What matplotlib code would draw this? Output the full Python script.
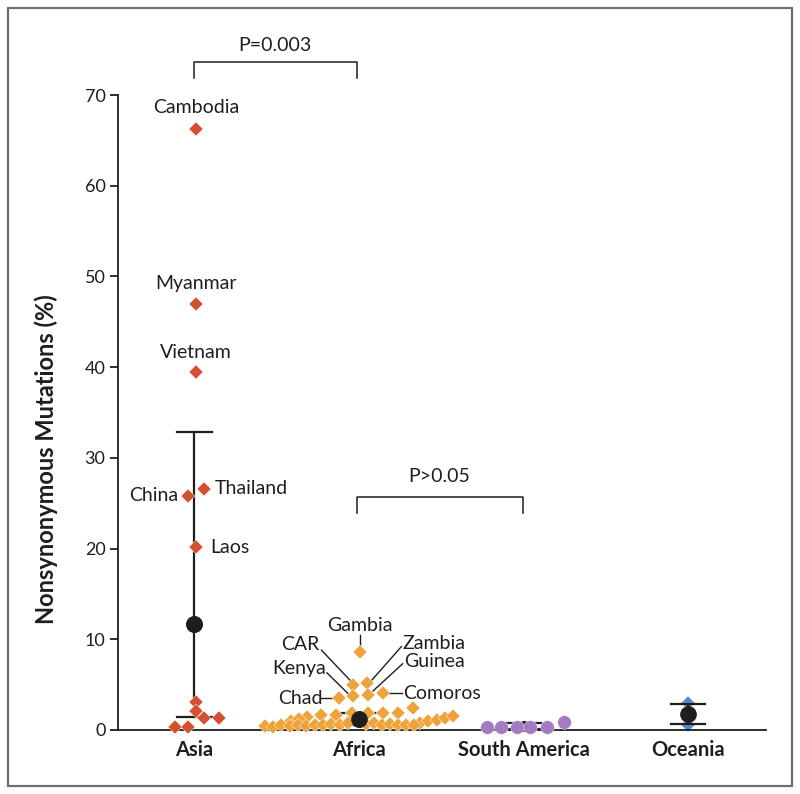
import matplotlib
matplotlib.use('Agg')
import matplotlib.pyplot as plt
from matplotlib.patches import Rectangle

plt.rcParams['font.family'] = ['Lato', 'DejaVu Sans']

categories = ['Asia', 'Africa', 'South America', 'Oceania']

# Asia (diamonds)
asia_values = [66.3, 47.0, 39.5, 26.6, 25.8, 20.2, 3.1, 2.1, 1.35, 1.35, 0.35, 0.35]
asia_jitter = [0.01, 0.01, 0.01, 0.06, -0.04, 0.01, 0.01, 0.01, 0.06, 0.15, -0.12, -0.04]
asia_mean = 11.7
asia_err = (1.4, 32.9)

# Africa (diamonds)
africa_values = [8.6, 5.0, 5.2, 3.7, 3.9, 3.5, 4.05,
                 1.45, 1.65, 1.65, 1.85, 1.85, 1.85, 1.85, 2.4,
                 0.8, 0.95, 1.05, 1.3, 1.5,
                 1.0, 1.2,
                 0.45, 0.35, 0.5, 0.4, 0.55, 0.45, 0.6, 0.5, 0.7, 0.6, 0.8,
                 0.7, 0.8, 0.6, 0.7, 0.5, 0.6, 0.5]
africa_jitter = [0.006, -0.038, 0.05, -0.035, 0.057, -0.12, 0.148,
                 -0.318, -0.233, -0.14, -0.044, 0.057, 0.148, 0.239, 0.33,
                 0.371, 0.421, 0.472, 0.523, 0.573,
                 -0.413, -0.365,
                 -0.571, -0.523, -0.474, -0.419, -0.371, -0.322, -0.267, -0.219, -0.170, -0.116, -0.067,
                 0.043, 0.091, 0.140, 0.188, 0.237, 0.286, 0.334]
africa_mean = 1.2
africa_err = (0.5, 1.9)

# South America (circles)
samerica_values = [0.35, 0.35, 0.35, 0.35, 0.35, 0.85]
samerica_jitter = [-0.224, -0.139, -0.041, 0.040, 0.145, 0.246]
samerica_mean = 0.4
samerica_err = (0.1, 0.8)

# Oceania (diamonds)
oceania_values = [3.0, 0.6]
oceania_jitter = [0.0, 0.0]
oceania_mean = 1.8
oceania_err = (0.66, 2.87)

y_ticks = [0, 10, 20, 30, 40, 50, 60, 70]

c_asia = '#D4502E'
c_africa = '#EEA43A'
c_sam = '#A47AC2'
c_oce = '#4A8FD6'
c_dark = '#1E1E1E'

fig = plt.figure(figsize=(8, 7.94), dpi=100)
W, H = 800, 794
ax = fig.add_axes([118 / W, (H - 730) / H, (766 - 118) / W, 700 / H])
ax.set_xlim(-0.465, 3.474)
ax.set_ylim(0, 700 / 9.071)

for s in ['top', 'right']:
    ax.spines[s].set_visible(False)
ax.spines['left'].set_bounds(0, 70)
ax.spines['left'].set_linewidth(1.3)
ax.spines['bottom'].set_linewidth(1.3)
ax.spines['left'].set_color(c_dark)
ax.spines['bottom'].set_color(c_dark)
ax.set_yticks(y_ticks)
ax.set_yticklabels([str(t) for t in y_ticks], fontsize=13, color=c_dark)
ax.tick_params(axis='y', length=6, width=1.3, color=c_dark, pad=3)
ax.set_xticks(range(len(categories)))
ax.set_xticklabels(categories, fontsize=14.5, fontweight='bold', color=c_dark)
ax.tick_params(axis='x', length=0, pad=7)

cap = 0.105


def errbar(xc, mean, err, z, ms=11):
    ax.plot([xc, xc], [err[0], err[1]], color=c_dark, lw=1.6, zorder=z, clip_on=False)
    for v in err:
        ax.plot([xc - cap, xc + cap], [v, v], color=c_dark, lw=1.6, zorder=z, clip_on=False)
    ax.plot([xc], [mean], 'o', color=c_dark, ms=ms, zorder=z + 0.5, clip_on=False)


ms_d = 7.4
# Asia
errbar(0, asia_mean, asia_err, 2)
ax.plot([0 + j for j in asia_jitter], asia_values, 'D', color=c_asia, ms=ms_d,
        mec='white', mew=0.3, zorder=3, clip_on=False, linestyle='none')
ax.plot([0], [asia_mean], 'o', color=c_dark, ms=11, zorder=4)

# Africa
ax.plot([1 + j for j in africa_jitter], africa_values, 'D', color=c_africa, ms=ms_d,
        mec='white', mew=0.3, zorder=3, clip_on=False, linestyle='none')
errbar(1, africa_mean, africa_err, 2)
ax.plot([1], [africa_mean], 'o', color=c_dark, ms=11, zorder=4)

# South America
errbar(2, samerica_mean, samerica_err, 2, ms=7)
ax.plot([2 + j for j in samerica_jitter], samerica_values, 'o', color=c_sam, ms=9.8,
        mec='white', mew=0.3, zorder=3, clip_on=False, linestyle='none')

# Oceania
ax.plot([3 + j for j in oceania_jitter], oceania_values, 'D', color=c_oce, ms=ms_d,
        mec='white', mew=0.3, zorder=2, clip_on=False, linestyle='none')
errbar(3, oceania_mean, oceania_err, 3)

fs = 14
# Asia labels
ax.text(0.01, 68.6, 'Cambodia', ha='center', va='center', fontsize=fs, color=c_dark)
ax.text(0.01, 49.2, 'Myanmar', ha='center', va='center', fontsize=fs, color=c_dark)
ax.text(0.01, 41.6, 'Vietnam', ha='center', va='center', fontsize=fs, color=c_dark)
ax.text(0.125, 26.6, 'Thailand', ha='left', va='center', fontsize=fs, color=c_dark)
ax.text(-0.10, 25.9, 'China', ha='right', va='center', fontsize=fs, color=c_dark)
ax.text(0.095, 20.1, 'Laos', ha='left', va='center', fontsize=fs, color=c_dark)

# Africa labels with leader lines
lw_l = 1.0
ax.text(1.006, 11.5, 'Gambia', ha='center', va='center', fontsize=fs, color=c_dark)
ax.plot([1.006, 1.006], [10.5, 9.4], color=c_dark, lw=lw_l)
ax.text(0.76, 9.4, 'CAR', ha='right', va='center', fontsize=fs, color=c_dark)
ax.plot([0.772, 0.955], [8.8, 5.3], color=c_dark, lw=lw_l)
ax.text(0.80, 6.8, 'Kenya', ha='right', va='center', fontsize=fs, color=c_dark)
ax.plot([0.805, 0.940], [6.3, 3.9], color=c_dark, lw=lw_l)
ax.text(0.78, 3.5, 'Chad', ha='right', va='center', fontsize=fs, color=c_dark)
ax.plot([0.77, 0.855], [3.5, 3.5], color=c_dark, lw=lw_l)
ax.text(1.265, 9.55, 'Zambia', ha='left', va='center', fontsize=fs, color=c_dark)
ax.plot([1.258, 1.078], [9.2, 5.5], color=c_dark, lw=lw_l)
ax.text(1.273, 7.5, 'Guinea', ha='left', va='center', fontsize=fs, color=c_dark)
ax.plot([1.265, 1.085], [7.3, 4.3], color=c_dark, lw=lw_l)
ax.text(1.27, 4.05, 'Comoros', ha='left', va='center', fontsize=fs, color=c_dark)
ax.plot([1.185, 1.262], [4.05, 4.05], color=c_dark, lw=lw_l)

# significance brackets
ax.plot([0, 0, 0.985, 0.985], [71.9, 73.6, 73.6, 71.9], color=c_dark, lw=1.1, clip_on=False)
ax.text(0.49, 75.5, 'P=0.003', ha='center', va='center', fontsize=fs, color=c_dark)
ax.plot([0.985, 0.985, 1.995, 1.995], [23.9, 25.7, 25.7, 23.9], color=c_dark, lw=1.1, clip_on=False)
ax.text(1.49, 27.9, 'P>0.05', ha='center', va='center', fontsize=fs, color=c_dark)

# y label
fig.text(46 / W, 1 - 459 / H, 'Nonsynonymous Mutations (%)', rotation=90, ha='center', va='center',
         fontsize=17, fontweight='bold', color=c_dark,
         family=['Liberation Sans Narrow', 'Lato', 'DejaVu Sans'])

# frame
fig.patches.append(Rectangle((8 / W, 8 / H), 784 / W, 778 / H, transform=fig.transFigure,
                             fill=False, edgecolor='#6E6E6E', lw=1.6))

fig.savefig('out.png', dpi=100)
